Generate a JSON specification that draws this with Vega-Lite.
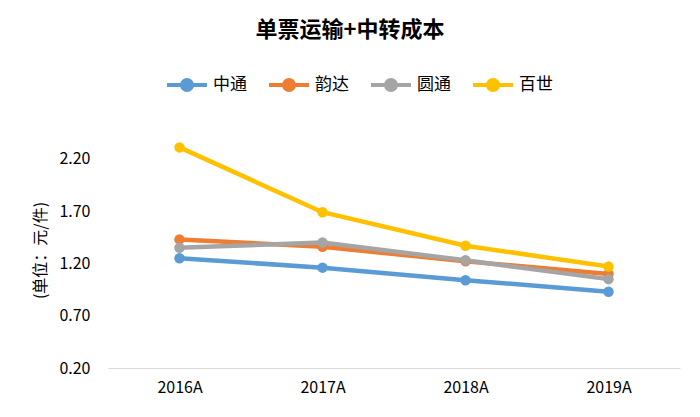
{
  "$schema": "https://vega.github.io/schema/vega-lite/v6.json",
  "autosize": {"type": "none"},
  "width": 572,
  "height": 230,
  "padding": {"left": 108, "top": 138, "right": 20, "bottom": 49},
  "background": "white",
  "config": {"view": {"stroke": null}},
  "title": {
    "text": "单票运输+中转成本",
    "font": "Noto Sans CJK SC",
    "fontSize": 22,
    "fontWeight": "bold",
    "color": "#000000",
    "anchor": "middle",
    "dx": -44,
    "offset": 21
  },
  "data": {
    "values": [
      {"year": "2016A", "company": "中通", "cost": 1.25},
      {"year": "2017A", "company": "中通", "cost": 1.16},
      {"year": "2018A", "company": "中通", "cost": 1.04},
      {"year": "2019A", "company": "中通", "cost": 0.93},
      {"year": "2016A", "company": "韵达", "cost": 1.43},
      {"year": "2017A", "company": "韵达", "cost": 1.36},
      {"year": "2018A", "company": "韵达", "cost": 1.22},
      {"year": "2019A", "company": "韵达", "cost": 1.10},
      {"year": "2016A", "company": "圆通", "cost": 1.35},
      {"year": "2017A", "company": "圆通", "cost": 1.40},
      {"year": "2018A", "company": "圆通", "cost": 1.23},
      {"year": "2019A", "company": "圆通", "cost": 1.05},
      {"year": "2016A", "company": "百世", "cost": 2.31},
      {"year": "2017A", "company": "百世", "cost": 1.69},
      {"year": "2018A", "company": "百世", "cost": 1.37},
      {"year": "2019A", "company": "百世", "cost": 1.17}
    ]
  },
  "mark": {"type": "line", "strokeWidth": 4.5, "point": {"size": 110, "filled": true}},
  "encoding": {
    "x": {
      "field": "year",
      "type": "ordinal",
      "scale": {"type": "point", "padding": 0.5},
      "axis": {
        "title": null,
        "labelAngle": 0,
        "labelFont": "Noto Sans CJK SC",
        "labelFontSize": 16,
        "labelColor": "#000000",
        "labelPadding": 11,
        "ticks": false,
        "domainColor": "#d9d9d9",
        "domainWidth": 1,
        "grid": false
      }
    },
    "y": {
      "field": "cost",
      "type": "quantitative",
      "scale": {"domain": [0.2, 2.4], "nice": false, "zero": false},
      "axis": {
        "values": [0.2, 0.7, 1.2, 1.7, 2.2],
        "format": ".2f",
        "labelFont": "Noto Sans CJK SC",
        "labelFontSize": 16,
        "labelColor": "#000000",
        "labelPadding": 18,
        "ticks": false,
        "domain": false,
        "grid": false,
        "title": "(单位：元/件)",
        "titleFont": "Noto Sans CJK SC",
        "titleFontSize": 16,
        "titleFontWeight": "normal",
        "titleColor": "#000000",
        "titleX": -68,
        "titleY": 112,
        "titleAngle": -90,
        "titleAlign": "center",
        "titleBaseline": "middle"
      }
    },
    "color": {
      "field": "company",
      "type": "nominal",
      "sort": ["中通", "韵达", "圆通", "百世"],
      "scale": {
        "domain": ["中通", "韵达", "圆通", "百世"],
        "range": ["#5B9BD5", "#ED7D31", "#A5A5A5", "#FFC000"]
      },
      "legend": {
        "title": null,
        "orient": "none",
        "direction": "horizontal",
        "legendX": 57,
        "legendY": -75,
        "symbolType": "M-1,0L1,0M-0.25,0A0.25,0.25,0,1,1,0.25,0A0.25,0.25,0,1,1,-0.25,0Z",
        "symbolSize": 1600,
        "symbolStrokeWidth": 4,
        "labelFont": "Noto Sans CJK SC",
        "labelFontSize": 17,
        "labelColor": "#000000",
        "labelOffset": 4,
        "columnPadding": 14,
        "encode": {
          "symbols": {"update": {"fill": {"scale": "color", "field": "value"}, "fillOpacity": {"value": 1}}}
        }
      }
    }
  }
}
